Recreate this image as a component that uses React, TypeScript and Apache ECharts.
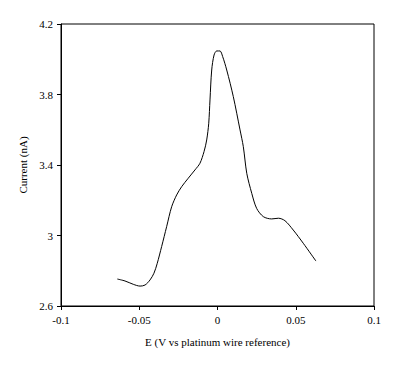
import React, { useEffect, useRef } from "react";
import * as echarts from "echarts";

const potentialV = [
  -0.064, -0.0591, -0.0538, -0.0495, -0.0463, -0.0431, -0.0406, -0.0385, -0.0357, -0.0325,
  -0.0293, -0.0261, -0.0229, -0.0187, -0.0144, -0.0112, -0.0086, -0.0069, -0.0056, -0.0048,
  -0.0037, -0.0022, -0.0005, 0.0016, 0.0033, 0.0059, 0.0101, 0.0144, 0.0165, 0.0187,
  0.0219, 0.025, 0.0293, 0.0346, 0.0389, 0.0431, 0.0484, 0.0548, 0.0629,
];
const currentNA = [
  2.753, 2.742, 2.723, 2.713, 2.719, 2.748, 2.786, 2.842, 2.937, 3.05,
  3.163, 3.23, 3.277, 3.325, 3.372, 3.41, 3.476, 3.542, 3.637, 3.769,
  3.939, 4.024, 4.047, 4.047, 4.015, 3.939, 3.788, 3.599, 3.504, 3.353,
  3.239, 3.154, 3.107, 3.094, 3.098, 3.084, 3.031, 2.956, 2.855,
];
const xTickLabels = ["-0.1", "-0.05", "0", "0.05", "0.1"];
const yTickLabels = ["2.6", "3", "3.4", "3.8", "4.2"];

export default function App() {
  const ref = useRef<HTMLDivElement>(null);
  useEffect(() => {
    if (!ref.current) return;
    const chart = echarts.init(ref.current, null, { renderer: "svg" });
    const font = "Liberation Serif";
    const data = potentialV.map((x, i) => [x, currentNA[i]]);
    chart.setOption({
      animation: false,
      backgroundColor: "#ffffff",
      grid: {
        left: 61,
        top: 24,
        width: 313,
        height: 282,
        show: true,
        borderColor: "#000",
        borderWidth: 1,
        backgroundColor: "transparent",
      },
      xAxis: {
        type: "value",
        min: -0.1,
        max: 0.1,
        interval: 0.05,
        name: "E (V vs platinum wire reference)",
        nameLocation: "middle",
        nameGap: 30,
        nameTextStyle: { fontFamily: font, fontSize: 11, color: "#000" },
        axisLine: { show: true, onZero: false, lineStyle: { color: "#000", width: 1 } },
        axisTick: { show: true, inside: false, length: 4, lineStyle: { color: "#000" } },
        axisLabel: {
          fontFamily: font,
          fontSize: 11,
          color: "#000",
          margin: 8,
          formatter: (v: number) => xTickLabels[Math.round((v + 0.1) / 0.05)] ?? "",
        },
        splitLine: { show: false },
      },
      yAxis: {
        type: "value",
        min: 2.6,
        max: 4.2,
        interval: 0.4,
        name: "Current (nA)",
        nameLocation: "middle",
        nameGap: 30,
        nameTextStyle: { fontFamily: font, fontSize: 11, color: "#000" },
        axisLine: { show: true, onZero: false, lineStyle: { color: "#000", width: 1 } },
        axisTick: { show: true, inside: false, length: 4, lineStyle: { color: "#000" } },
        axisLabel: {
          fontFamily: font,
          fontSize: 11,
          color: "#000",
          margin: 8,
          formatter: (v: number) => yTickLabels[Math.round((v - 2.6) / 0.4)] ?? "",
        },
        splitLine: { show: false },
      },
      series: [
        {
          type: "line",
          data,
          smooth: 0.3,
          showSymbol: false,
          symbol: "none",
          lineStyle: { color: "#000", width: 1 },
        },
      ],
    });
    return () => chart.dispose();
  }, []);
  return (
    <div
      ref={ref}
      style={{ position: "fixed", left: 0, top: 0, width: 402, height: 368, background: "#fff" }}
    />
  );
}
